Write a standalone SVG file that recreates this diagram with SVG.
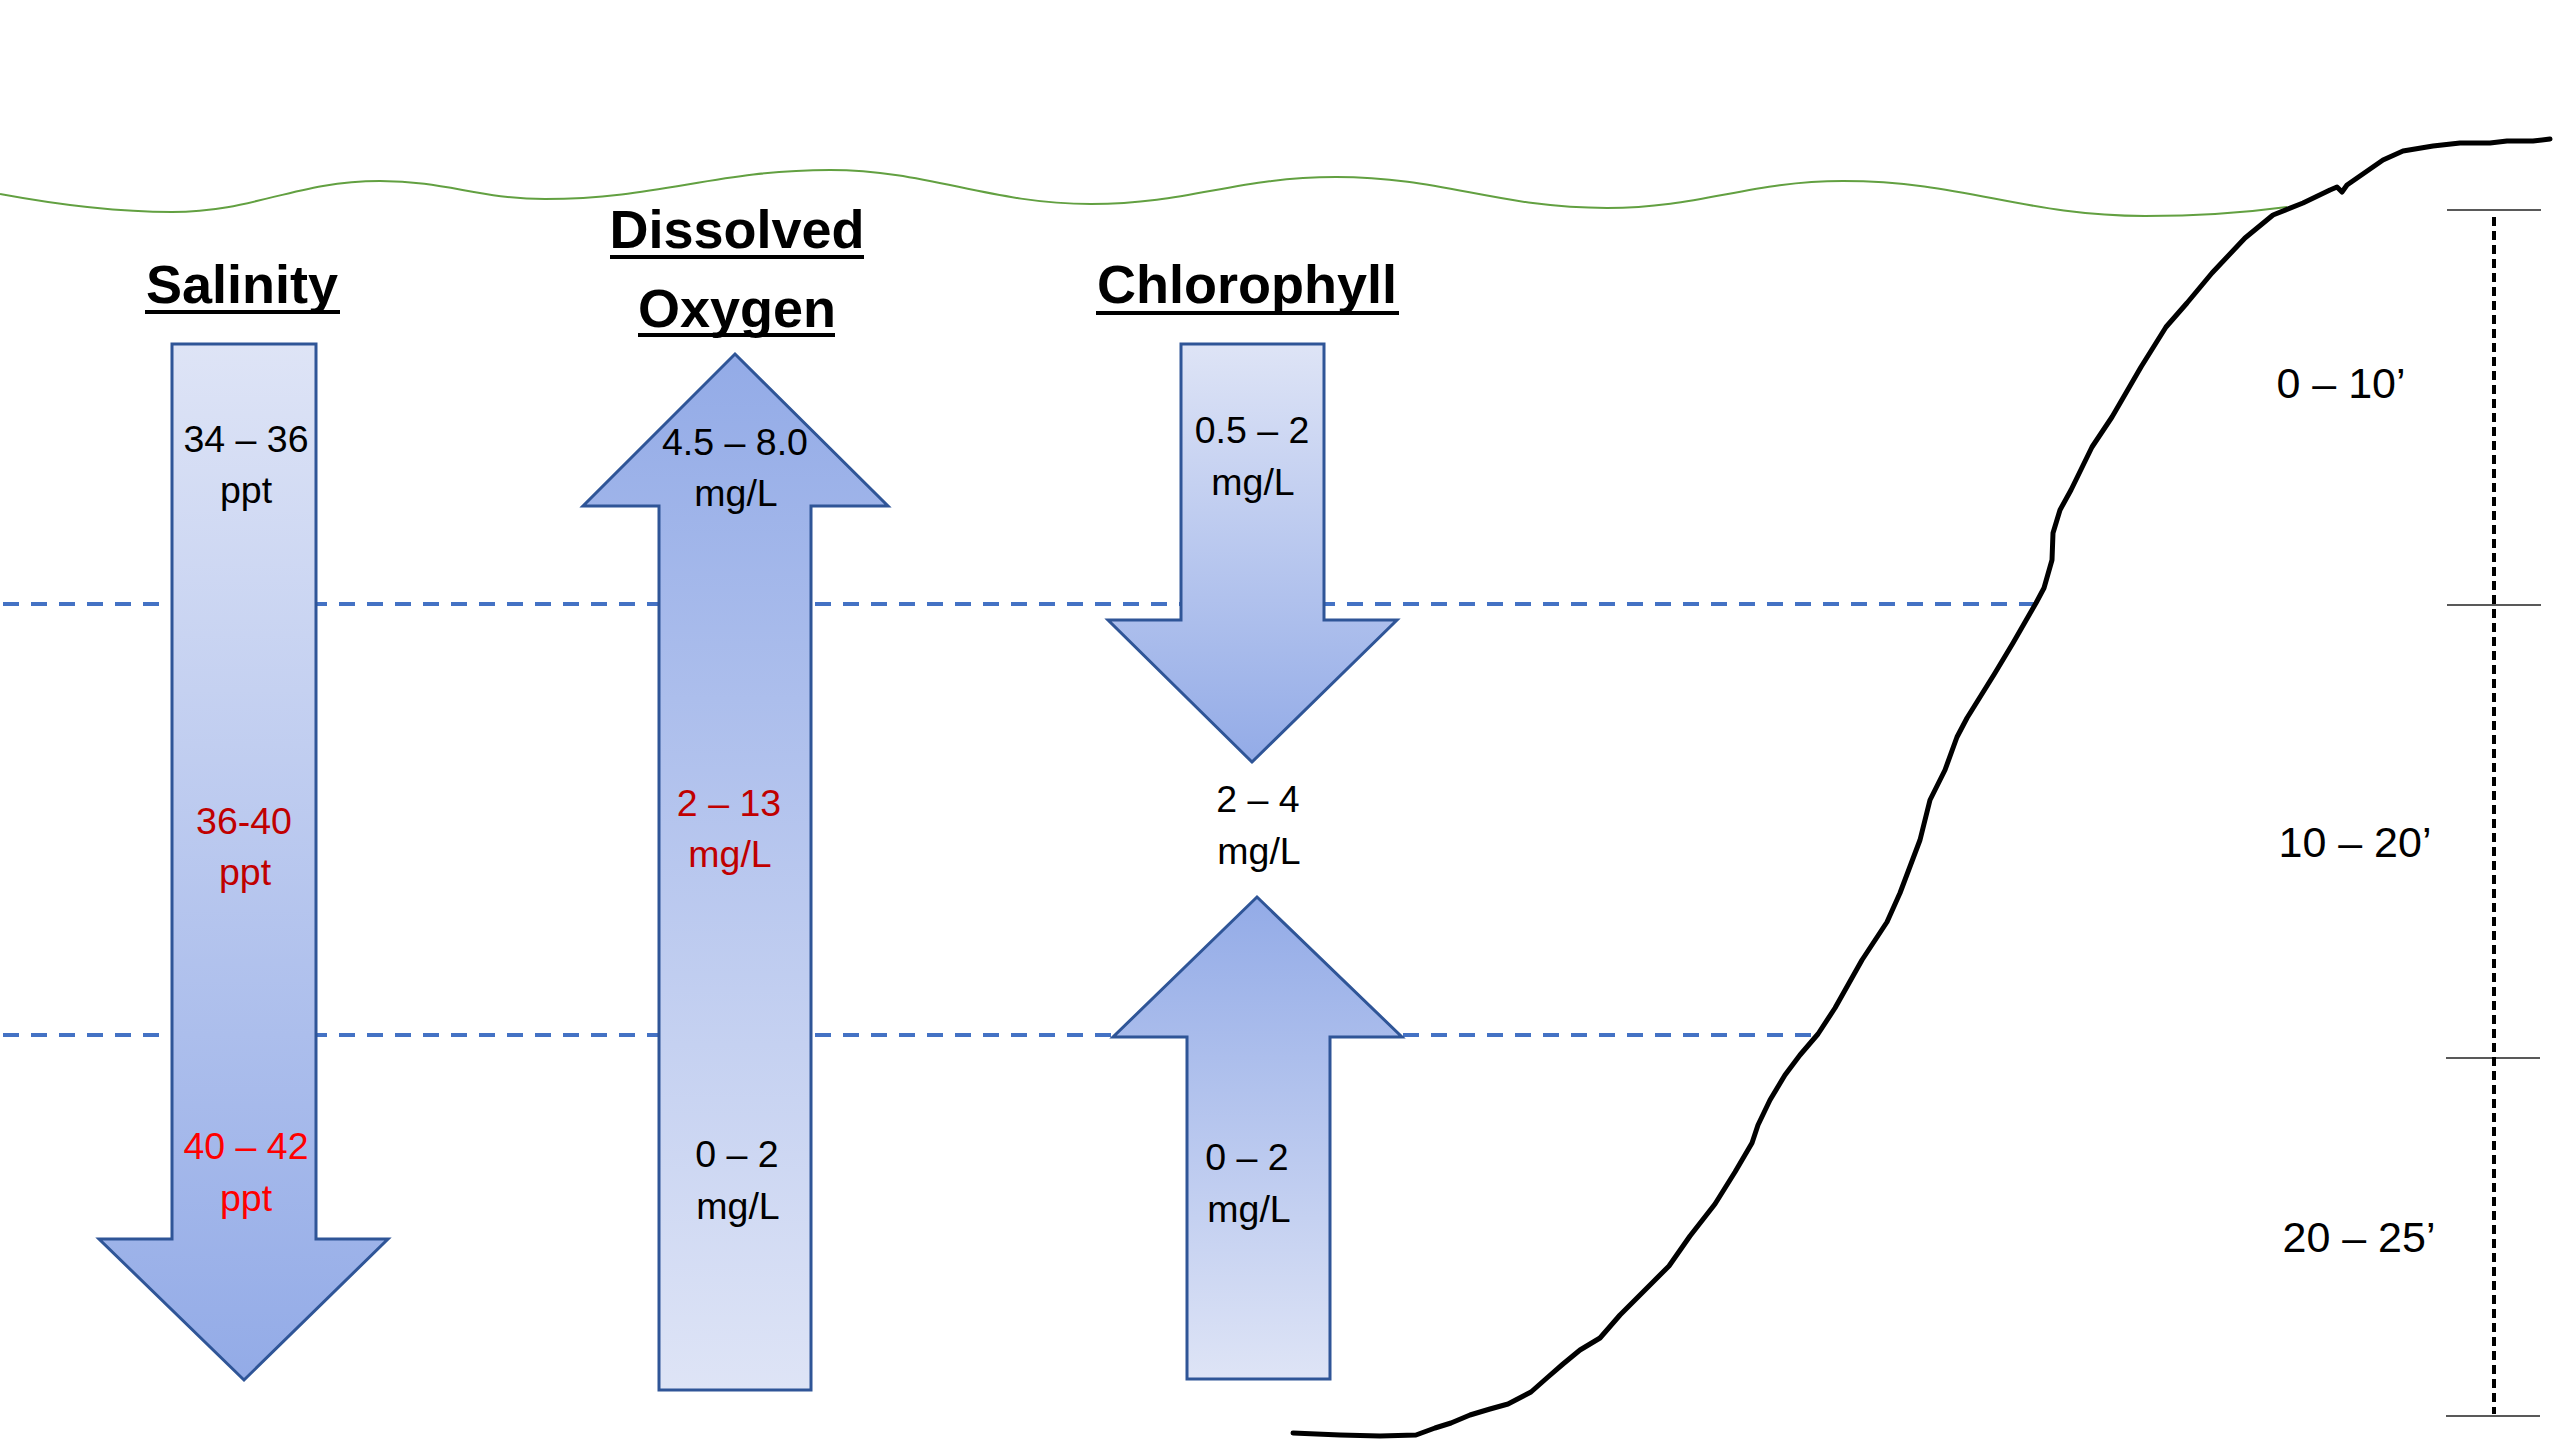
<svg xmlns="http://www.w3.org/2000/svg" width="2560" height="1440" viewBox="0 0 2560 1440">
<defs>
<linearGradient id="gDown" x1="0" y1="0" x2="0" y2="1">
<stop offset="0" stop-color="#DEE4F6"/>
<stop offset="1" stop-color="#93ABE7"/>
</linearGradient>
<linearGradient id="gUp" x1="0" y1="0" x2="0" y2="1">
<stop offset="0" stop-color="#93ABE7"/>
<stop offset="1" stop-color="#DEE4F6"/>
</linearGradient>
<style>
.arrow{stroke:#2F5597;stroke-width:3;stroke-linejoin:miter}
.lbl{font-family:"Liberation Sans",Arial,sans-serif;font-size:37.5px;text-anchor:middle;fill:#000}
.red1{fill:#C00000}
.red2{fill:#FF0000}
.title{font-family:"Liberation Sans",Arial,sans-serif;font-size:54px;font-weight:bold;text-anchor:middle;fill:#000}
.ul{stroke:#000;stroke-width:4}
.depth{font-family:"Liberation Sans",Arial,sans-serif;font-size:43px;text-anchor:middle;fill:#000}
.layer{stroke:#4472C4;stroke-width:4;stroke-dasharray:16 12;fill:none}
.tick{stroke:#222;stroke-width:1.5}
</style>
</defs>
<rect width="2560" height="1440" fill="#FFFFFF"/>

<g id="connectors">
<path id="water-surface" d="M0,194 C70,207 120,212 172,212 C255,212 295,181 380,181 C446,181 479,199 545,199 C659,199 716,170 830,170 C928,170 990,204 1091,204 C1190,204 1236,177 1336,177 C1443,177 1497,208 1607,208 C1701,208 1749,181 1843,181 C1964,181 2024,216 2145,216 C2200,216 2250,212 2287,207" fill="none" stroke="#62A041" stroke-width="2"/>
<line class="layer" x1="3" y1="604" x2="2036" y2="604"/>
<line class="layer" x1="3" y1="1035" x2="1818" y2="1035"/>
<polyline id="shore" fill="none" stroke="#000" stroke-width="5" stroke-linejoin="round" stroke-linecap="round" points="1293,1433 1340,1435 1380,1436 1416,1435 1435,1428 1451,1423 1470,1415 1490,1409 1508,1404 1531,1392 1548,1377 1563,1364 1580,1350 1600,1338 1620,1315 1645,1290 1669,1266 1690,1236 1715,1204 1735,1172 1752,1143 1758,1125 1770,1100 1785,1075 1800,1055 1818,1034 1835,1008 1853,976 1862,960 1887,922 1900,893 1920,840 1930,800 1945,770 1957,737 1967,718 1995,673 2013,643 2036,603 2044,588 2052,560 2053,533 2060,510 2071,490 2092,447 2112,417 2141,367 2166,327 2187,303 2212,273 2245,238 2273,215 2303,203 2330,190 2337,187 2342,192 2347,185 2383,160 2403,151 2433,146 2460,143 2490,143 2507,141 2533,141 2550,139"/>
<line class="tick" x1="2447" y1="210" x2="2541" y2="210"/>
<line class="tick" x1="2447" y1="605" x2="2541" y2="605"/>
<line class="tick" x1="2446" y1="1058" x2="2540" y2="1058"/>
<line class="tick" x1="2446" y1="1416" x2="2540" y2="1416"/>
<line x1="2494" y1="217" x2="2494" y2="1414" stroke="#000" stroke-width="4" stroke-dasharray="9 5"/>
</g>

<g id="salinity">
<text class="title" x="242" y="303">Salinity</text>
<line class="ul" x1="145" y1="312" x2="340" y2="312"/>
<polygon class="arrow" fill="url(#gDown)" points="172,344 316,344 316,1239 388,1239 244,1380 99,1239 172,1239"/>
<text class="lbl" x="246" y="452">34 – 36</text>
<text class="lbl" x="246" y="503">ppt</text>
<text class="lbl red1" x="244" y="834">36-40</text>
<text class="lbl red1" x="245" y="885">ppt</text>
<text class="lbl red2" x="246" y="1159">40 – 42</text>
<text class="lbl red2" x="246" y="1211">ppt</text>
</g>

<g id="dissolved-oxygen">
<text class="title" x="737" y="248">Dissolved</text>
<line class="ul" x1="610" y1="257" x2="864" y2="257"/>
<text class="title" x="737" y="327">Oxygen</text>
<line class="ul" x1="638" y1="335" x2="835" y2="335"/>
<polygon class="arrow" fill="url(#gUp)" points="735,354 888,506 811,506 811,1390 659,1390 659,506 583,506"/>
<text class="lbl" x="735" y="455">4.5 – 8.0</text>
<text class="lbl" x="736" y="506">mg/L</text>
<text class="lbl red1" x="729" y="816">2 – 13</text>
<text class="lbl red1" x="730" y="867">mg/L</text>
<text class="lbl" x="737" y="1167">0 – 2</text>
<text class="lbl" x="738" y="1219">mg/L</text>
</g>

<g id="chlorophyll">
<text class="title" x="1247" y="303">Chlorophyll</text>
<line class="ul" x1="1096" y1="313" x2="1399" y2="313"/>
<polygon class="arrow" fill="url(#gDown)" points="1181,344 1324,344 1324,620 1397,620 1252,762 1108,620 1181,620"/>
<polygon class="arrow" fill="url(#gUp)" points="1257,897 1402,1037 1330,1037 1330,1379 1187,1379 1187,1037 1113,1037"/>
<text class="lbl" x="1252" y="443">0.5 – 2</text>
<text class="lbl" x="1253" y="495">mg/L</text>
<text class="lbl" x="1258" y="812">2 – 4</text>
<text class="lbl" x="1259" y="864">mg/L</text>
<text class="lbl" x="1247" y="1170">0 – 2</text>
<text class="lbl" x="1249" y="1222">mg/L</text>
</g>

<g id="depth-scale">
<text class="depth" x="2341" y="398">0 – 10’</text>
<text class="depth" x="2355" y="857">10 – 20’</text>
<text class="depth" x="2359" y="1252">20 – 25’</text>
</g>
</svg>
